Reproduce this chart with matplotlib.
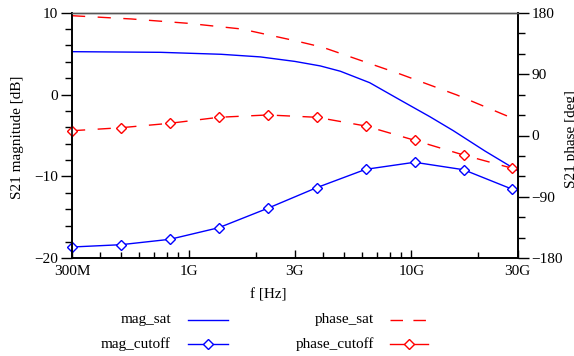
import matplotlib
matplotlib.use("Agg")
import matplotlib.pyplot as plt
from matplotlib.lines import Line2D
from matplotlib.ticker import FixedLocator, LogLocator, NullFormatter, MultipleLocator

plt.rcParams["font.family"] = ["Liberation Serif", "DejaVu Serif"]

# =========================
# Datos (frecuencias en GHz)
# =========================

f_mag_sat = [0.3, 0.75, 1.4, 2.1, 3.0, 3.9, 4.8, 6.5, 8.9, 12.1, 15.4, 21.4, 30.0]
mag_sat = [5.24, 5.16, 4.92, 4.6, 4.05, 3.5, 2.85, 1.45, -0.66, -2.7, -4.4, -6.9, -9.3]

f_phase_sat = [0.3, 0.555, 0.99, 1.73, 3.0, 4.0, 8.9, 16.0, 26.9, 30.0]
phase_sat = [175.6, 170.8, 164.5, 156.1, 139.0, 129.3, 90.1, 59.4, 28.6, 23.0]

f_cutoff = [0.3, 0.497, 0.825, 1.368, 2.268, 3.76, 6.24, 10.34, 17.15, 28.4]
mag_cutoff = [-18.62, -18.34, -17.68, -16.26, -13.89, -11.37, -9.13, -8.27, -9.18, -11.57]
phase_cutoff = [7.0, 11.4, 17.9, 26.7, 30.1, 26.7, 13.9, -7.0, -28.6, -48.1]

xticks = [0.3e9, 1e9, 3e9, 1e10, 3e10]
xtick_labels = ["300M", "1G", "3G", "10G", "30G"]

AZUL = "#0000ff"
ROJO = "#ff0000"
DASH = (0, (9.5, 9.0))

fig = plt.figure(figsize=(5.74, 3.56), dpi=100)
ax = fig.add_axes([72 / 574, 1 - 258.3 / 356, (517.7 - 72) / 574, (258.3 - 12.7) / 356])
ax2 = ax.twinx()

hz = lambda fs: [v * 1e9 for v in fs]

ax.plot(hz(f_mag_sat), mag_sat, color=AZUL, lw=1.0)
ax.plot(hz(f_cutoff), mag_cutoff, color=AZUL, lw=1.0, marker="D", ms=4.8,
        mfc="white", mec=AZUL, mew=1.0, clip_on=False)
ax2.plot(hz(f_phase_sat), phase_sat, color=ROJO, lw=1.0, linestyle=DASH)
ax2.plot(hz(f_cutoff), phase_cutoff, color=ROJO, lw=1.0, linestyle=DASH, marker="D", ms=4.8,
         mfc="white", mec=ROJO, mew=1.0, clip_on=False)

ax.set_xscale("log")
ax.set_xlim(3e8, 3e10)
ax.set_ylim(-20, 10)
ax2.set_ylim(-180, 180)

ax.xaxis.set_major_locator(FixedLocator(xticks))
ax.set_xticklabels(xtick_labels)
ax.xaxis.set_minor_locator(LogLocator(base=10, subs=range(2, 10)))
ax.xaxis.set_minor_formatter(NullFormatter())

ax.yaxis.set_major_locator(MultipleLocator(10))
ax.yaxis.set_minor_locator(MultipleLocator(2))
ax2.yaxis.set_major_locator(MultipleLocator(90))
ax2.yaxis.set_minor_locator(MultipleLocator(30))

ax.tick_params(axis="x", which="major", direction="in", length=6, width=1, labelsize=11, pad=5)
ax.tick_params(axis="x", which="minor", direction="in", length=4, width=1)
ax.tick_params(axis="y", which="major", direction="out", length=8, width=1, labelsize=11, pad=2)
ax.tick_params(axis="y", which="minor", direction="out", length=5, width=1)
ax2.tick_params(axis="y", which="major", direction="out", length=8, width=1, labelsize=11, pad=2)
ax2.tick_params(axis="y", which="minor", direction="out", length=5, width=1)

for a in (ax, ax2):
    a.spines["top"].set_color("#555555")
    a.spines["top"].set_linewidth(1.0)
    for s in ("left", "right", "bottom"):
        a.spines[s].set_linewidth(1.2)
        a.spines[s].set_color("black")

fig.text(268 / 574, 1 - 295 / 356, "f [Hz]", ha="center", va="center", fontsize=11)
fig.text(18 / 574, 1 - 137 / 356, "S21 magnitude [dB]", ha="center", va="center",
         rotation=90, fontsize=11)
fig.text(571 / 574, 1 - 139 / 356, "S21 phase [deg]", ha="center", va="center",
         rotation=90, fontsize=11)

# =========================
# Leyenda manual
# =========================

def entrada(x_txt, x0, x1, y, texto, color, estilo, marcador):
    fy = 1 - y / 356
    fig.text(x_txt / 574, fy, texto, ha="right", va="center", fontsize=11)
    fig.add_artist(Line2D([x0 / 574, x1 / 574], [fy, fy], transform=fig.transFigure,
                          color=color, lw=1.0, linestyle=estilo))
    if marcador:
        xm = (x0 + x1) / 2 / 574
        fig.add_artist(Line2D([xm], [fy], transform=fig.transFigure, marker="D", ms=4.8,
                              mfc="white", mec=color, mew=1.0, linestyle="none"))

entrada(171, 188, 228, 320, "mag_sat", AZUL, "-", False)
entrada(171, 188, 228, 344, "mag_cutoff", AZUL, "-", True)
entrada(374, 390, 428, 320, "phase_sat", ROJO, (0, (9.0, 7.5)), False)
entrada(374, 390, 428, 344, "phase_cutoff", ROJO, "-", True)

fig.savefig("out.png", dpi=100)
